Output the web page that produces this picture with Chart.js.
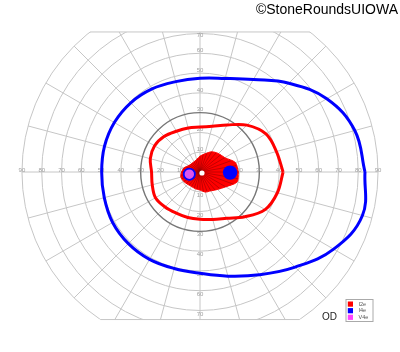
<!DOCTYPE html>
<html><head><meta charset="utf-8">
<script src="https://cdn.jsdelivr.net/npm/chart.js@4.4.0/dist/chart.umd.min.js"></script>
<style>html,body{margin:0;padding:0;background:#fff;}canvas{display:block}</style>
</head><body>
<canvas id="c" width="400" height="352"></canvas>
<script>
// ---- data (degrees of visual field) ----
const meridians = [0,15,30,45,60,75,90,105,120,135,150,165,180,195,210,225,240,255,270,285,300,315,330,345];
const isopterI2e = [42,40,38.5,33.5,27.5,24,22.7,23,23.8,25.5,26.5,26,24.5,25,26,25,24,23.8,23.9,24.8,27,32,38,40.5];
const isopterI4e = [83.4,81,74,63.5,54,49,47.4,47.3,48.5,49.5,50,50,49.7,50.1,51,51.2,51,50.5,51.2,54.5,60,68,78,85];
const scotomaI2e = [19.4,18.5,14.5,13.2,11.8,9.5,8,6.5,6,6,6.5,8.3,9.3,10,9.5,8.8,8.5,8.8,9.1,10.5,11,12.5,15,19.4];
const blindSpotI4e = [{x:15.2, y:-0.3}];
const scotomaV4e = [{x:-5.4, y:-1.1}];
const fixation = [{x:1, y:-0.5}];
const ringValues = [10,20,30,40,50,60,70,80,90];
const horizontalTickLabels = [10,20,30,40,50,60,70,80,90];
const verticalTickLabels = [10,20,30,40,50,60,70];
const fieldTopDeg = 70.8, fieldBottomDeg = -74.6;
const legendLabels = ['I2e','I4e','V4e'];
const legendColors = ['#ff0000','#0000ff','#ff44ff'];
const eyeLabel = 'OD';
const credit = '\u00A9StoneRoundsUIOWA';

function polar(angles, radii){
  const pts = angles.map((a,i)=>({x: radii[i]*Math.cos(a*Math.PI/180), y: radii[i]*Math.sin(a*Math.PI/180)}));
  pts.push({x:pts[0].x, y:pts[0].y});
  return pts;
}

const gridPlugin = {
  id:'perimetryGrid',
  beforeDatasetsDraw(chart){
    const {ctx, scales:{x,y}} = chart;
    const cx = x.getPixelForValue(0), cy = y.getPixelForValue(0);
    const k = x.getPixelForValue(1) - cx;
    const R = 90*k;
    const yTop = y.getPixelForValue(fieldTopDeg), yBot = y.getPixelForValue(fieldBottomDeg);
    ctx.save();
    ctx.beginPath(); ctx.rect(0, yTop, chart.width, yBot - yTop); ctx.clip();
    ctx.strokeStyle = '#c6c6c6'; ctx.lineWidth = 1;
    ringValues.forEach(r=>{ if(r===30) return; ctx.beginPath(); ctx.arc(cx,cy,r*k,0,Math.PI*2); ctx.stroke(); });
    meridians.forEach(a=>{
      const t = a*Math.PI/180;
      ctx.beginPath(); ctx.moveTo(cx,cy); ctx.lineTo(cx+R*Math.cos(t), cy-R*Math.sin(t)); ctx.stroke();
    });
    ctx.strokeStyle = '#777'; ctx.lineWidth = 1.4;
    ctx.beginPath(); ctx.arc(cx,cy,30*k,0,Math.PI*2); ctx.stroke();
    ctx.restore();
    ctx.save();
    ctx.strokeStyle = '#c6c6c6'; ctx.lineWidth = 1;
    [yTop, yBot].forEach(yy=>{
      const h = Math.sqrt(Math.max(0, R*R - (yy-cy)*(yy-cy)));
      ctx.beginPath(); ctx.moveTo(cx-h, yy); ctx.lineTo(cx+h, yy); ctx.stroke();
    });
    ctx.fillStyle = '#a0a0a0'; ctx.font = '6px "Liberation Sans", Arial, sans-serif';
    ctx.textAlign = 'center'; ctx.textBaseline = 'middle';
    horizontalTickLabels.forEach(v=>{
      ctx.fillText(String(v), x.getPixelForValue(-v), cy-1.5);
      ctx.fillText(String(v), x.getPixelForValue(v), cy-1.5);
    });
    verticalTickLabels.forEach(v=>{
      ctx.fillText(String(v), cx, Math.max(y.getPixelForValue(v)-3, yTop+3));
      ctx.fillText(String(v), cx, Math.min(y.getPixelForValue(-v)+3.5, yBot-3));
    });
    ctx.restore();
  },
  afterDatasetDraw(chart, args){
    const ds = chart.data.datasets[args.index];
    if(ds.label !== 'I2e scotoma') return;
    const {ctx, scales:{x,y}} = chart;
    const pts = args.meta.data;
    const cx = x.getPixelForValue(0), cy = y.getPixelForValue(0);
    ctx.save();
    ctx.beginPath();
    pts.forEach((p,i)=>{ if(i===0) ctx.moveTo(p.x,p.y); else ctx.lineTo(p.x,p.y); });
    ctx.closePath(); ctx.clip();
    ctx.strokeStyle = 'rgba(130,0,0,0.55)'; ctx.lineWidth = 0.9;
    for(let a=0;a<360;a+=10){
      const t=a*Math.PI/180;
      ctx.beginPath(); ctx.moveTo(cx,cy); ctx.lineTo(cx+60*Math.cos(t), cy-60*Math.sin(t)); ctx.stroke();
    }
    ctx.restore();
  },
  afterDraw(chart){
    const {ctx} = chart;
    ctx.save();
    ctx.fillStyle = '#000'; ctx.font = '14px "Liberation Sans", Arial, sans-serif';
    ctx.textAlign = 'right'; ctx.textBaseline = 'alphabetic';
    ctx.fillText(credit, 398, 13.5);
    ctx.fillStyle = '#222'; ctx.font = '10px "Liberation Sans", Arial, sans-serif';
    ctx.textAlign = 'left';
    ctx.fillText(eyeLabel, 322, 320);
    // legend
    ctx.fillStyle = '#fff'; ctx.strokeStyle = '#aaa'; ctx.lineWidth = 1;
    ctx.fillRect(346, 299.5, 27, 22); ctx.strokeRect(346, 299.5, 27, 22);
    ctx.font = '5.5px "Liberation Sans", Arial, sans-serif'; ctx.textBaseline = 'middle';
    legendLabels.forEach((lab,i)=>{
      const yy = 301.5 + i*6.6;
      ctx.fillStyle = legendColors[i]; ctx.fillRect(347.8, yy, 5.2, 5.2);
      ctx.fillStyle = '#555'; ctx.fillText(lab, 358.5, yy+2.7);
    });
    ctx.restore();
  }
};

new Chart(document.getElementById('c'), {
  type:'scatter',
  data:{ datasets:[
    {label:'fixation', data:fixation, pointRadius:2.6, pointBackgroundColor:'#ffffff', pointBorderWidth:0, showLine:false, order:1},
    {label:'V4e', data:scotomaV4e, pointRadius:5.6, pointBackgroundColor:'#dd55ee', pointBorderColor:'#0000ff', pointBorderWidth:1.8, showLine:false, order:2},
    {label:'I4e blind spot', data:blindSpotI4e, pointRadius:7.2, pointBackgroundColor:'#0000ff', pointBorderWidth:0, showLine:false, order:3},
    {label:'I2e scotoma', data:polar(meridians, scotomaI2e), showLine:true, fill:'shape', backgroundColor:'#ff0000', borderColor:'#ff0000', borderWidth:1, pointRadius:0, tension:0.3, order:4},
    {label:'I4e', data:polar(meridians, isopterI4e), showLine:true, fill:false, borderColor:'#0000ff', borderWidth:3, pointRadius:0, tension:0.4, order:5},
    {label:'I2e', data:polar(meridians, isopterI2e), showLine:true, fill:false, borderColor:'#ff0000', borderWidth:3, pointRadius:0, tension:0.35, order:6}
  ]},
  options:{
    responsive:false, animation:false, events:[],
    layout:{padding:0, autoPadding:false},
    plugins:{legend:{display:false}, tooltip:{enabled:false}},
    scales:{
      x:{type:'linear', min:-101.1, max:101.1, display:false},
      y:{type:'linear', min:-91.0, max:86.96, display:false}
    }
  },
  plugins:[gridPlugin]
});
</script>
</body></html>
